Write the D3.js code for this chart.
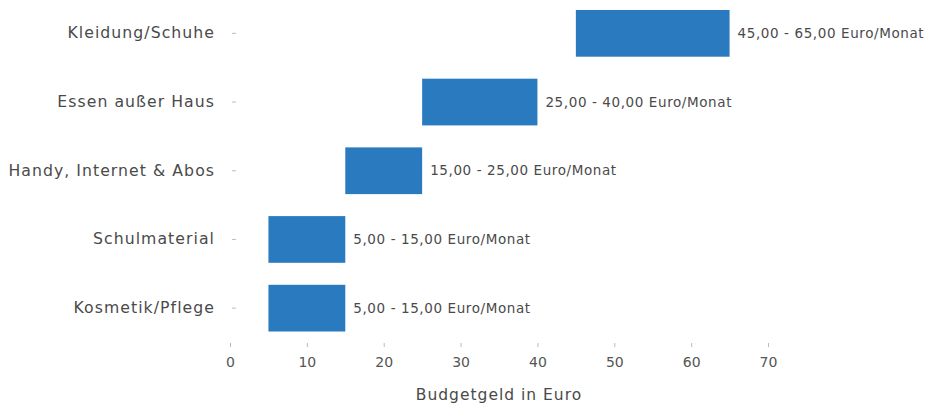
<!DOCTYPE html>
<html lang="de">
<head>
<meta charset="UTF-8">
<title>Budgetgeld</title>
<script src="https://cdnjs.cloudflare.com/ajax/libs/d3/7.8.2/d3.min.js"></script>
<style>
  body { margin: 0; background: #fff; }
  svg, svg text { font-family: "DejaVu Sans", sans-serif; }
</style>
</head>
<body>
<div id="chart"></div>
<script>
// data
const categories = ["Kleidung/Schuhe", "Essen außer Haus", "Handy, Internet & Abos", "Schulmaterial", "Kosmetik/Pflege"];
const lowValues = [45, 25, 15, 5, 5];
const highValues = [65, 40, 25, 15, 15];
const barLabels = ["45,00 - 65,00 Euro/Monat", "25,00 - 40,00 Euro/Monat", "15,00 - 25,00 Euro/Monat", "5,00 - 15,00 Euro/Monat", "5,00 - 15,00 Euro/Monat"];
const xTicks = [0, 10, 20, 30, 40, 50, 60, 70];

const width = 943, height = 403;

const svg = d3.select("#chart").append("svg")
    .attr("width", width)
    .attr("height", height);

const x = d3.scaleLinear().domain([0, 70]).range([230, 768]);
const y = d3.scaleBand().domain(categories).range([-1, 342.5])
    .paddingInner(0.32).paddingOuter(0.16);

// bars
svg.append("g").selectAll("rect")
    .data(categories)
    .enter().append("rect")
    .attr("x", (d, i) => x(lowValues[i]))
    .attr("y", d => y(d))
    .attr("width", (d, i) => x(highValues[i]) - x(lowValues[i]))
    .attr("height", y.bandwidth())
    .attr("fill", "#2a7abf");

// value labels
svg.append("g").selectAll("text")
    .data(categories)
    .enter().append("text")
    .attr("x", (d, i) => x(highValues[i]) + 8)
    .attr("y", d => y(d) + y.bandwidth() / 2)
    .attr("dy", "0.35em")
    .attr("font-size", 13.5)
    .attr("letter-spacing", 0.6)
    .attr("fill", "#4a4a4a")
    .text((d, i) => barLabels[i]);

// y axis
const yAxis = svg.append("g")
    .attr("transform", "translate(236,0)")
    .call(d3.axisLeft(y).tickSize(4).tickPadding(17));
yAxis.attr("font-family", null);
yAxis.select(".domain").remove();
yAxis.selectAll(".tick line").attr("stroke", "#bbb");
yAxis.selectAll(".tick text")
    .attr("font-size", 15.7)
    .attr("letter-spacing", 1.05)
    .attr("fill", "#4a4a4a");

// x axis
const xAxis = svg.append("g")
    .attr("transform", "translate(0,343)")
    .call(d3.axisBottom(x).tickValues(xTicks).tickSize(4).tickPadding(10));
xAxis.attr("font-family", null);
xAxis.select(".domain").remove();
xAxis.selectAll(".tick line").attr("stroke", "#bbb");
xAxis.selectAll(".tick text").attr("font-size", 14).attr("fill", "#555");

svg.append("text")
    .attr("x", x(35))
    .attr("y", 395)
    .attr("dy", "0.35em")
    .attr("text-anchor", "middle")
    .attr("font-size", 15.5)
    .attr("letter-spacing", 1)
    .attr("fill", "#4a4a4a")
    .text("Budgetgeld in Euro");
</script>
</body>
</html>
